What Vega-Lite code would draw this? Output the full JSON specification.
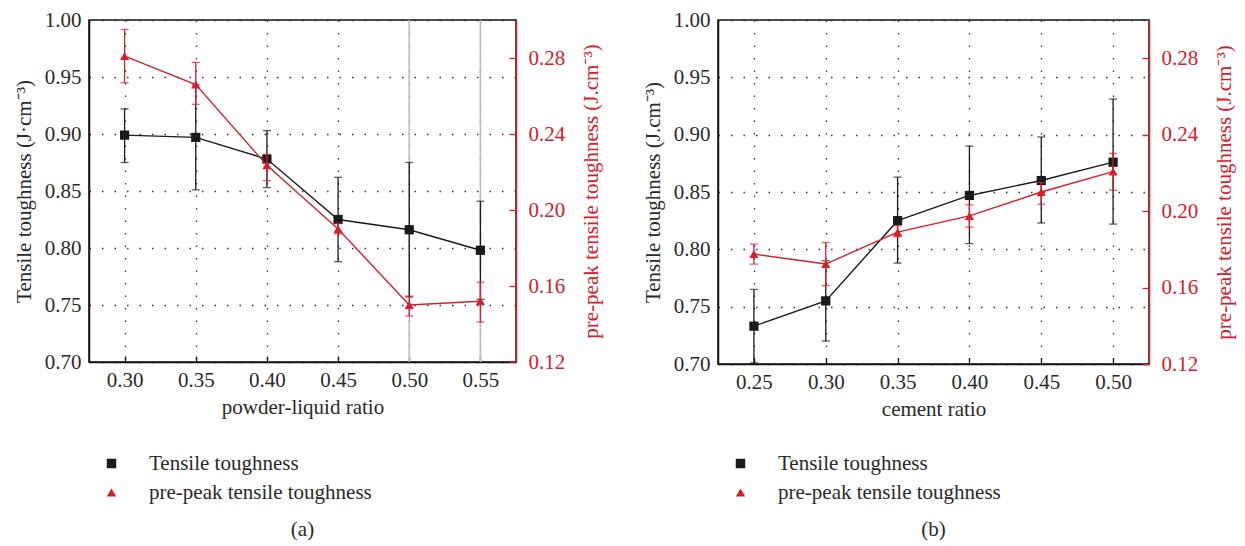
{
  "$schema": "https://vega.github.io/schema/vega-lite/v6.json",
  "background": "white",
  "padding": {"left": 12, "top": 8, "right": 5, "bottom": 5},
  "config": {
    "font": "Liberation Serif",
    "view": {"stroke": "#111", "strokeWidth": 1.5},
    "axis": {
      "labelFont": "Liberation Serif", "titleFont": "Liberation Serif",
      "labelFontSize": 21, "titleFontSize": 21, "titleFontWeight": "normal",
      "labelColor": "#2a2a2a", "titleColor": "#2a2a2a",
      "domainColor": "#111", "domainWidth": 1.5,
      "gridColor": "#333", "gridDash": [1.5, 11], "gridWidth": 1.3,
      "tickColor": "#111", "tickWidth": 1.3
    },
    "legend": {"labelFont": "Liberation Serif", "labelFontSize": 21, "labelColor": "#2a2a2a", "labelLimit": 0},
    "title": {"font": "Liberation Serif", "fontSize": 21, "fontWeight": "normal", "color": "#2a2a2a"}
  },
  "datasets": {
    "d": [
      {"panel": "a", "series": "Tensile toughness", "x": 0.30, "value": 0.899, "lo": 0.875, "hi": 0.922},
      {"panel": "a", "series": "Tensile toughness", "x": 0.35, "value": 0.897, "lo": 0.851, "hi": 0.943},
      {"panel": "a", "series": "Tensile toughness", "x": 0.40, "value": 0.878, "lo": 0.853, "hi": 0.903},
      {"panel": "a", "series": "Tensile toughness", "x": 0.45, "value": 0.825, "lo": 0.788, "hi": 0.862},
      {"panel": "a", "series": "Tensile toughness", "x": 0.50, "value": 0.816, "lo": 0.757, "hi": 0.875},
      {"panel": "a", "series": "Tensile toughness", "x": 0.55, "value": 0.798, "lo": 0.755, "hi": 0.841},
      {"panel": "a", "series": "pre-peak tensile toughness", "x": 0.30, "value": 0.281, "lo": 0.267, "hi": 0.295},
      {"panel": "a", "series": "pre-peak tensile toughness", "x": 0.35, "value": 0.266, "lo": 0.2556, "hi": 0.2777},
      {"panel": "a", "series": "pre-peak tensile toughness", "x": 0.40, "value": 0.2235, "lo": 0.2154, "hi": 0.2293},
      {"panel": "a", "series": "pre-peak tensile toughness", "x": 0.45, "value": 0.190, "lo": 0.1874, "hi": 0.193},
      {"panel": "a", "series": "pre-peak tensile toughness", "x": 0.50, "value": 0.150, "lo": 0.1442, "hi": 0.1547},
      {"panel": "a", "series": "pre-peak tensile toughness", "x": 0.55, "value": 0.152, "lo": 0.141, "hi": 0.162},
      {"panel": "b", "series": "Tensile toughness", "x": 0.25, "value": 0.733, "lo": 0.701, "hi": 0.765},
      {"panel": "b", "series": "Tensile toughness", "x": 0.30, "value": 0.755, "lo": 0.720, "hi": 0.790},
      {"panel": "b", "series": "Tensile toughness", "x": 0.35, "value": 0.825, "lo": 0.788, "hi": 0.863},
      {"panel": "b", "series": "Tensile toughness", "x": 0.40, "value": 0.847, "lo": 0.805, "hi": 0.890},
      {"panel": "b", "series": "Tensile toughness", "x": 0.45, "value": 0.860, "lo": 0.823, "hi": 0.898},
      {"panel": "b", "series": "Tensile toughness", "x": 0.50, "value": 0.876, "lo": 0.822, "hi": 0.931},
      {"panel": "b", "series": "pre-peak tensile toughness", "x": 0.25, "value": 0.1775, "lo": 0.1723, "hi": 0.1827},
      {"panel": "b", "series": "pre-peak tensile toughness", "x": 0.30, "value": 0.1723, "lo": 0.161, "hi": 0.1836},
      {"panel": "b", "series": "pre-peak tensile toughness", "x": 0.35, "value": 0.189, "lo": 0.1866, "hi": 0.1923},
      {"panel": "b", "series": "pre-peak tensile toughness", "x": 0.40, "value": 0.1975, "lo": 0.1916, "hi": 0.2033},
      {"panel": "b", "series": "pre-peak tensile toughness", "x": 0.45, "value": 0.210, "lo": 0.2036, "hi": 0.2149},
      {"panel": "b", "series": "pre-peak tensile toughness", "x": 0.50, "value": 0.2207, "lo": 0.2109, "hi": 0.2302}
    ],
    "refs": [{"x": 0.50}, {"x": 0.55}]
  },
  "spacing": 38,
  "resolve": {"scale": {"color": "independent", "shape": "independent"}, "legend": {"color": "independent", "shape": "independent"}},
  "hconcat": [
    {
      "width": 427, "height": 342,
      "title": {"text": "(a)", "orient": "bottom", "anchor": "middle", "offset": 16},
      "layer": [
        {
          "data": {"name": "refs"},
          "mark": {"type": "rule", "color": "#bdbdbd", "strokeWidth": 1.6},
          "encoding": {
            "x": {"field": "x", "type": "quantitative", "scale": {"domain": [0.275, 0.575], "nice": false, "zero": false}}
          }
        },
        {
          "data": {"name": "d"},
          "transform": [{"filter": "datum.panel == 'a' && datum.series == 'Tensile toughness'"}],
          "encoding": {
            "x": {"field": "x", "type": "quantitative", "scale": {"domain": [0.275, 0.575], "nice": false, "zero": false},
              "axis": {"title": "powder-liquid ratio", "values": [0.30, 0.35, 0.40, 0.45, 0.50, 0.55], "format": ".2f", "grid": true, "tickSize": -6, "labelPadding": 13, "titlePadding": 6}}
          },
          "layer": [
            {
              "mark": {"type": "errorbar", "color": "#1a1a1a", "ticks": {"size": 8, "thickness": 1.3}, "rule": {"strokeWidth": 1.3}},
              "encoding": {
                "y": {"field": "lo", "type": "quantitative", "scale": {"domain": [0.70, 1.00], "nice": false, "zero": false},
                  "axis": {"title": "Tensile toughness (J·cm⁻³)", "values": [0.70, 0.75, 0.80, 0.85, 0.90, 0.95, 1.00], "format": ".2f", "grid": true, "ticks": false, "labelPadding": 8, "titlePadding": 10}},
                "y2": {"field": "hi"}
              }
            },
            {
              "mark": {"type": "line", "color": "#1a1a1a", "strokeWidth": 1.4},
              "encoding": {
                "y": {"field": "value", "type": "quantitative", "axis": {"title": "Tensile toughness (J·cm⁻³)"}}
              }
            },
            {
              "mark": {"type": "point", "filled": true, "size": 85, "opacity": 1},
              "encoding": {
                "y": {"field": "value", "type": "quantitative", "axis": {"title": "Tensile toughness (J·cm⁻³)"}},
                "color": {"field": "series", "type": "nominal", "scale": {"domain": ["Tensile toughness", "pre-peak tensile toughness"], "range": ["#1a1a1a", "#d4202c"]},
                  "legend": {"title": null, "orient": "none", "legendX": 12, "legendY": 433, "symbolSize": 90, "labelOffset": 27, "rowPadding": 7}},
                "shape": {"field": "series", "type": "nominal", "scale": {"domain": ["Tensile toughness", "pre-peak tensile toughness"], "range": ["square", "triangle-up"]},
                  "legend": {"title": null, "orient": "none", "legendX": 12, "legendY": 433, "symbolSize": 90, "labelOffset": 27, "rowPadding": 7}}
              }
            }
          ]
        },
        {
          "data": {"name": "d"},
          "transform": [{"filter": "datum.panel == 'a' && datum.series == 'pre-peak tensile toughness'"}],
          "encoding": {
            "x": {"field": "x", "type": "quantitative"}
          },
          "layer": [
            {
              "mark": {"type": "errorbar", "color": "#d4202c", "ticks": {"size": 8, "thickness": 1.3}, "rule": {"strokeWidth": 1.3}},
              "encoding": {
                "y": {"field": "lo", "type": "quantitative", "scale": {"domain": [0.12, 0.30], "nice": false, "zero": false},
                  "axis": {"orient": "right", "title": "pre-peak tensile toughness (J.cm⁻³)", "values": [0.12, 0.16, 0.20, 0.24, 0.28], "format": ".2f", "grid": false, "tickSize": -7, "labelPadding": 19, "titlePadding": 16, "titleAngle": 270, "titleBaseline": "top",
                    "domainColor": "#d4202c", "tickColor": "#d4202c", "labelColor": "#d4202c", "titleColor": "#d4202c"}},
                "y2": {"field": "hi"}
              }
            },
            {
              "mark": {"type": "line", "color": "#d4202c", "strokeWidth": 1.4},
              "encoding": {
                "y": {"field": "value", "type": "quantitative", "axis": {"title": "pre-peak tensile toughness (J.cm⁻³)"}}
              }
            },
            {
              "mark": {"type": "point", "filled": true, "size": 85, "opacity": 1},
              "encoding": {
                "y": {"field": "value", "type": "quantitative", "axis": {"title": "pre-peak tensile toughness (J.cm⁻³)"}},
                "color": {"field": "series", "type": "nominal"},
                "shape": {"field": "series", "type": "nominal"}
              }
            }
          ]
        }
      ],
      "resolve": {"scale": {"y": "independent"}}
    },
    {
      "width": 431, "height": 344,
      "title": {"text": "(b)", "orient": "bottom", "anchor": "middle", "offset": 16},
      "layer": [
        {
          "data": {"name": "d"},
          "transform": [{"filter": "datum.panel == 'b' && datum.series == 'Tensile toughness'"}],
          "encoding": {
            "x": {"field": "x", "type": "quantitative", "scale": {"domain": [0.225, 0.525], "nice": false, "zero": false},
              "axis": {"title": "cement ratio", "values": [0.25, 0.30, 0.35, 0.40, 0.45, 0.50], "format": ".2f", "grid": true, "tickSize": -6, "labelPadding": 13, "titlePadding": 6}}
          },
          "layer": [
            {
              "mark": {"type": "errorbar", "color": "#1a1a1a", "ticks": {"size": 8, "thickness": 1.3}, "rule": {"strokeWidth": 1.3}},
              "encoding": {
                "y": {"field": "lo", "type": "quantitative", "scale": {"domain": [0.70, 1.00], "nice": false, "zero": false},
                  "axis": {"title": "Tensile toughness (J.cm⁻³)", "values": [0.70, 0.75, 0.80, 0.85, 0.90, 0.95, 1.00], "format": ".2f", "grid": true, "ticks": false, "labelPadding": 8, "titlePadding": 10}},
                "y2": {"field": "hi"}
              }
            },
            {
              "mark": {"type": "line", "color": "#1a1a1a", "strokeWidth": 1.4},
              "encoding": {
                "y": {"field": "value", "type": "quantitative", "axis": {"title": "Tensile toughness (J.cm⁻³)"}}
              }
            },
            {
              "mark": {"type": "point", "filled": true, "size": 85, "opacity": 1},
              "encoding": {
                "y": {"field": "value", "type": "quantitative", "axis": {"title": "Tensile toughness (J.cm⁻³)"}},
                "color": {"field": "series", "type": "nominal", "scale": {"domain": ["Tensile toughness", "pre-peak tensile toughness"], "range": ["#1a1a1a", "#d4202c"]},
                  "legend": {"title": null, "orient": "none", "legendX": 12, "legendY": 433, "symbolSize": 90, "labelOffset": 27, "rowPadding": 7}},
                "shape": {"field": "series", "type": "nominal", "scale": {"domain": ["Tensile toughness", "pre-peak tensile toughness"], "range": ["square", "triangle-up"]},
                  "legend": {"title": null, "orient": "none", "legendX": 12, "legendY": 433, "symbolSize": 90, "labelOffset": 27, "rowPadding": 7}}
              }
            }
          ]
        },
        {
          "data": {"name": "d"},
          "transform": [{"filter": "datum.panel == 'b' && datum.series == 'pre-peak tensile toughness'"}],
          "encoding": {
            "x": {"field": "x", "type": "quantitative"}
          },
          "layer": [
            {
              "mark": {"type": "errorbar", "color": "#d4202c", "ticks": {"size": 8, "thickness": 1.3}, "rule": {"strokeWidth": 1.3}},
              "encoding": {
                "y": {"field": "lo", "type": "quantitative", "scale": {"domain": [0.12, 0.30], "nice": false, "zero": false},
                  "axis": {"orient": "right", "title": "pre-peak tensile toughness (J.cm⁻³)", "values": [0.12, 0.16, 0.20, 0.24, 0.28], "format": ".2f", "grid": false, "tickSize": -7, "labelPadding": 19, "titlePadding": 16, "titleAngle": 270, "titleBaseline": "top",
                    "domainColor": "#d4202c", "tickColor": "#d4202c", "labelColor": "#d4202c", "titleColor": "#d4202c"}},
                "y2": {"field": "hi"}
              }
            },
            {
              "mark": {"type": "line", "color": "#d4202c", "strokeWidth": 1.4},
              "encoding": {
                "y": {"field": "value", "type": "quantitative", "axis": {"title": "pre-peak tensile toughness (J.cm⁻³)"}}
              }
            },
            {
              "mark": {"type": "point", "filled": true, "size": 85, "opacity": 1},
              "encoding": {
                "y": {"field": "value", "type": "quantitative", "axis": {"title": "pre-peak tensile toughness (J.cm⁻³)"}},
                "color": {"field": "series", "type": "nominal"},
                "shape": {"field": "series", "type": "nominal"}
              }
            }
          ]
        }
      ],
      "resolve": {"scale": {"y": "independent"}}
    }
  ]
}
